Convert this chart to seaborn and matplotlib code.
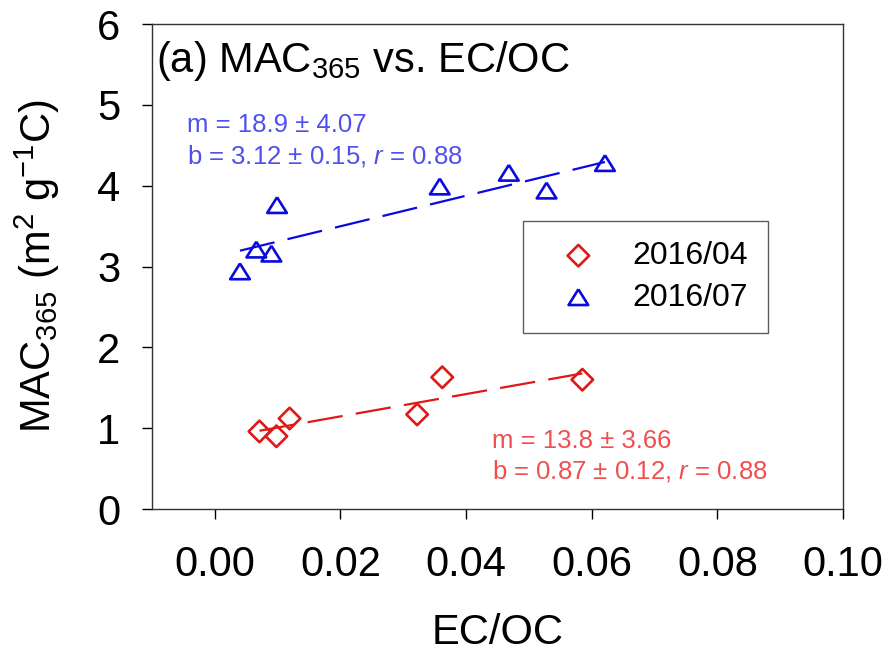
import numpy as np
import pandas as pd
import matplotlib
matplotlib.use("Agg")
import matplotlib.pyplot as plt
import seaborn as sns

# ---- data ----
apr_x = [0.0071, 0.0098, 0.0119, 0.0322, 0.0362, 0.0585]
apr_y = [0.96, 0.90, 1.12, 1.17, 1.63, 1.60]
jul_x = [0.0040, 0.0066, 0.0090, 0.0099, 0.0358, 0.0468, 0.0528, 0.0621]
jul_y = [2.94, 3.21, 3.16, 3.76, 3.99, 4.16, 3.94, 4.28]
labels = ["2016/04", "2016/07"]
fit_m = [13.8, 18.9]
fit_b = [0.87, 3.12]
x_ticks = [0.00, 0.02, 0.04, 0.06, 0.08, 0.10]
y_ticks = [0, 1, 2, 3, 4, 5, 6]

sns.set_style("ticks")
plt.rcParams["font.family"] = ["Liberation Sans", "DejaVu Sans"]
plt.rcParams["mathtext.fontset"] = "custom"
plt.rcParams["mathtext.rm"] = "Liberation Sans"
plt.rcParams["mathtext.it"] = "Liberation Sans:italic"
plt.rcParams["mathtext.bf"] = "Liberation Sans:bold"
plt.rcParams["text.color"] = "black"
plt.rcParams["axes.labelcolor"] = "black"

fig = plt.figure(figsize=(8.88, 6.53), dpi=100)
ax = fig.add_axes([0.1712, 0.2205, 0.7782, 0.7427])

red = "#e01818"
blue = "#0a0ae0"
red_txt = "#ee5050"
blue_txt = "#5050ee"

tri = [(0, 0.8), (-1, -0.8), (1, -0.8), (0, 0.8)]

df_apr = pd.DataFrame({"x": apr_x, "y": apr_y})
df_jul = pd.DataFrame({"x": jul_x, "y": jul_y})

# regression lines
for xs, m, b, c in [(apr_x, fit_m[0], fit_b[0], red), (jul_x, fit_m[1], fit_b[1], blue)]:
    fx = np.array([min(xs), max(xs)])
    fy = b + m * fx
    sns.lineplot(x=fx, y=fy, ax=ax, color=c, linewidth=1.6)
    ax.lines[-1].set_dashes((16, 6))

sns.scatterplot(data=df_apr, x="x", y="y", ax=ax, marker="D", s=120,
                facecolor="none", edgecolor=red, linewidth=1.9, label=labels[0], zorder=3)
sns.scatterplot(data=df_jul, x="x", y="y", ax=ax, marker=tri, s=200,
                facecolor="none", edgecolor=blue, linewidth=1.9, label=labels[1], zorder=3)

ax.set_xlim(-0.01, 0.10)
ax.set_ylim(0, 6)
ax.set_xticks(x_ticks)
ax.set_xticklabels([f"{v:.2f}" for v in x_ticks])
ax.set_yticks(y_ticks)
ax.tick_params(axis="both", direction="out", length=7, width=1, labelsize=30,
               colors="black")
ax.tick_params(axis="x", pad=19)
ax.tick_params(axis="y", pad=16)
for s in ax.spines.values():
    s.set_visible(True)
    s.set_color("#333333")
    s.set_linewidth(1.0)

ax.set_xlabel("EC/OC", fontsize=30)
ax.xaxis.set_label_coords(0.5, -0.215)
ax.set_ylabel("MAC$_{365}$ (m$^{2}$ g$^{-1}$C)", fontsize=30)
ax.yaxis.set_label_coords(-0.13, 0.5)

ax.text(0.006, 0.901, "(a) MAC$_{365}$ vs. EC/OC", transform=ax.transAxes,
        fontsize=30, va="baseline", ha="left")

ax.text(0.0507, 0.777, "m = 18.9 ± 4.07", transform=ax.transAxes,
        fontsize=18.5, color=blue_txt, va="baseline", ha="left")
ax.text(0.0507, 0.713, "b = 3.12 ± 0.15, $r$ = 0.88", transform=ax.transAxes,
        fontsize=18.5, color=blue_txt, va="baseline", ha="left")
ax.text(0.492, 0.1258, "m = 13.8 ± 3.66", transform=ax.transAxes,
        fontsize=18.5, color=red_txt, va="baseline", ha="left")
ax.text(0.492, 0.0639, "b = 0.87 ± 0.12, $r$ = 0.88", transform=ax.transAxes,
        fontsize=18.5, color=red_txt, va="baseline", ha="left")

leg = ax.legend(loc="upper left", bbox_to_anchor=(0.537, 0.594), borderaxespad=0,
                fontsize=23, frameon=True, fancybox=False, edgecolor="#333333",
                borderpad=0.63, handlelength=2.2, handletextpad=0.6, labelspacing=0.36)
leg.get_frame().set_linewidth(1.0)

fig.savefig("out.png", dpi=100)
